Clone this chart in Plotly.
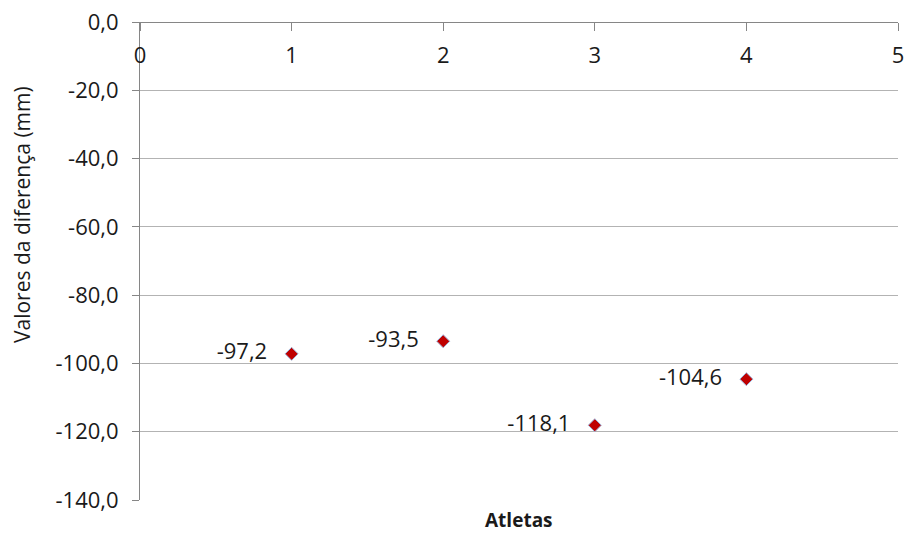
import plotly.graph_objects as go

atletas = [1, 2, 3, 4]
diferenca = [-97.2, -93.5, -118.1, -104.6]
rotulos = ["-97,2", "-93,5", "-118,1", "-104,6"]

y_ticks = [0, -20, -40, -60, -80, -100, -120, -140]
y_tick_text = ["0,0", "-20,0", "-40,0", "-60,0", "-80,0", "-100,0", "-120,0", "-140,0"]
x_ticks = [0, 1, 2, 3, 4, 5]

FONT = "Open Sans"
TXT = "#1a1a1a"

fig = go.Figure()
fig.add_trace(go.Scatter(
    x=atletas, y=diferenca, mode="markers+text",
    text=[r + "   " for r in rotulos], textposition="middle left",
    textfont=dict(family=FONT, size=22, color=TXT),
    marker=dict(symbol="diamond", size=10, color="#C00000",
                line=dict(color="#9DB3D9", width=1)),
    showlegend=False, cliponaxis=False,
))

fig.update_layout(
    width=907, height=534,
    margin=dict(l=140, r=9, t=22, b=34),
    plot_bgcolor="white", paper_bgcolor="white",
    font=dict(family=FONT, size=22, color=TXT),
    xaxis=dict(
        range=[0, 5], side="bottom", anchor="free", position=1,
        tickvals=x_ticks,
        ticks="outside", ticklen=8, tickcolor="#868686",
        ticklabelstandoff=6,
        showline=True, linecolor="#868686", linewidth=1,
        showgrid=False, zeroline=False, automargin=False,
        tickfont=dict(family=FONT, size=22, color=TXT),
    ),
    yaxis=dict(
        range=[-140, 0], tickvals=y_ticks, ticktext=y_tick_text,
        ticks="outside", ticklen=7, tickcolor="#868686",
        ticklabelstandoff=9,
        showline=True, linecolor="#868686", linewidth=1,
        showgrid=True, gridcolor="#b3b3b3", gridwidth=1,
        zeroline=False, automargin=False,
        tickfont=dict(family=FONT, size=22, color=TXT),
    ),
    annotations=[
        dict(text="<b>Atletas</b>", x=0.5, y=-20 / 478, xref="paper", yref="paper",
             xanchor="center", yanchor="middle", showarrow=False,
             font=dict(family=FONT, size=19, color=TXT)),
        dict(text="Valores da diferença (mm)", textangle=-90,
             x=(22 - 140) / 758, y=(500 - 215) / 478, xref="paper", yref="paper",
             xanchor="center", yanchor="middle", showarrow=False,
             font=dict(family=FONT, size=21, color=TXT)),
    ],
)

fig.write_html(
    "out.html",
    config={"displayModeBar": False},
    post_script="document.body.style.margin='0px';document.body.style.padding='0px';",
)
